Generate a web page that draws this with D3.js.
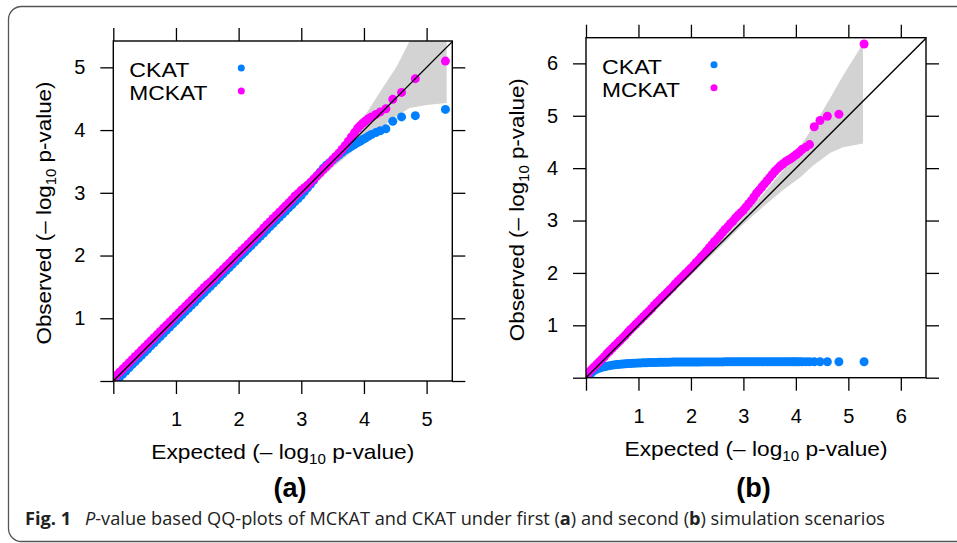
<!DOCTYPE html>
<html>
<head>
<meta charset="utf-8">
<script src="https://cdn.jsdelivr.net/npm/d3@7"></script>
<style>
  body { margin: 0; background: #fff; }
  svg { display: block; font-family: "Liberation Sans", Arial, sans-serif; }
  .axis path.domain { display: none; }
  .axis line { stroke: #000; stroke-width: 1.3; }
  .axis text { font-size: 20px; fill: #000; font-family: "Liberation Sans", Arial, sans-serif; }
</style>
</head>
<body>
<svg id="chart" width="957" height="543"></svg>
<script>
// expected -log10(p) quantiles, shared by every series
const expected = [
  0.02, 0.05, 0.10, 0.15, 0.20, 0.25, 0.30, 0.35, 0.40, 0.45,
  0.50, 0.55, 0.60, 0.65, 0.70, 0.75, 0.80, 0.85, 0.90, 0.95,
  1.00, 1.05, 1.10, 1.15, 1.20, 1.25, 1.30, 1.35, 1.40, 1.45,
  1.50, 1.55, 1.60, 1.65, 1.70, 1.75, 1.80, 1.85, 1.90, 1.95,
  2.00, 2.05, 2.10, 2.15, 2.20, 2.25, 2.30, 2.35, 2.40, 2.45,
  2.50, 2.55, 2.60, 2.65, 2.70, 2.75, 2.80, 2.85, 2.90, 2.95,
  3.00, 3.05, 3.10, 3.15, 3.20, 3.25, 3.30, 3.35, 3.40, 3.45,
  3.50, 3.55, 3.60, 3.65, 3.70, 3.75, 3.80, 3.85, 3.90, 3.94,
  3.98, 4.02, 4.07, 4.12, 4.19, 4.26, 4.35, 4.46, 4.60, 4.82,
  5.30
]

// panel (a): first scenario, observed -log10(p)
const ckatA = [
  0.00, 0.01, 0.06, 0.11, 0.16, 0.21, 0.26, 0.31, 0.36, 0.41,
  0.46, 0.51, 0.56, 0.61, 0.66, 0.71, 0.76, 0.81, 0.86, 0.91,
  0.96, 1.01, 1.06, 1.11, 1.16, 1.21, 1.26, 1.31, 1.36, 1.41,
  1.46, 1.51, 1.56, 1.61, 1.66, 1.71, 1.76, 1.81, 1.86, 1.91,
  1.96, 2.01, 2.06, 2.11, 2.16, 2.21, 2.26, 2.31, 2.36, 2.41,
  2.46, 2.51, 2.56, 2.61, 2.66, 2.71, 2.76, 2.81, 2.86, 2.91,
  2.96, 3.02, 3.08, 3.14, 3.20, 3.27, 3.33, 3.39, 3.44, 3.48,
  3.52, 3.56, 3.60, 3.64, 3.68, 3.71, 3.74, 3.77, 3.80, 3.82,
  3.85, 3.87, 3.90, 3.93, 3.96, 3.99, 4.02, 4.14, 4.21, 4.23,
  4.33
]
const mckatA = [
  0.05, 0.09, 0.14, 0.19, 0.24, 0.29, 0.34, 0.39, 0.44, 0.49,
  0.54, 0.59, 0.64, 0.69, 0.74, 0.79, 0.84, 0.89, 0.94, 0.99,
  1.04, 1.09, 1.14, 1.19, 1.24, 1.29, 1.34, 1.39, 1.44, 1.49,
  1.54, 1.58, 1.63, 1.68, 1.73, 1.78, 1.83, 1.88, 1.93, 1.98,
  2.03, 2.08, 2.13, 2.18, 2.23, 2.28, 2.33, 2.38, 2.44, 2.49,
  2.54, 2.59, 2.64, 2.69, 2.74, 2.79, 2.84, 2.89, 2.95, 2.99,
  3.04, 3.08, 3.12, 3.17, 3.22, 3.27, 3.32, 3.37, 3.42, 3.47,
  3.53, 3.58, 3.63, 3.69, 3.75, 3.82, 3.89, 3.96, 4.03, 4.07,
  4.11, 4.14, 4.18, 4.21, 4.25, 4.29, 4.34, 4.49, 4.60, 4.82,
  5.10
]

// panel (b): second scenario, observed -log10(p)
const ckatB = [
  0.02, 0.05, 0.09, 0.13, 0.16, 0.18, 0.20, 0.21, 0.22, 0.23,
  0.24, 0.245, 0.25, 0.255, 0.26, 0.265, 0.27, 0.272, 0.275, 0.277,
  0.28, 0.282, 0.284, 0.286, 0.288, 0.29, 0.291, 0.292, 0.293, 0.294,
  0.295, 0.296, 0.297, 0.298, 0.298, 0.299, 0.299, 0.30, 0.30, 0.30,
  0.30, 0.30, 0.30, 0.30, 0.301, 0.301, 0.301, 0.301, 0.302, 0.302,
  0.302, 0.302, 0.302, 0.303, 0.303, 0.303, 0.303, 0.303, 0.303, 0.304,
  0.304, 0.304, 0.304, 0.304, 0.304, 0.304, 0.305, 0.305, 0.305, 0.305,
  0.305, 0.305, 0.305, 0.305, 0.305, 0.305, 0.305, 0.305, 0.305, 0.305,
  0.305, 0.305, 0.305, 0.305, 0.305, 0.305, 0.305, 0.305, 0.305, 0.305,
  0.305
]
const mckatB = [
  0.07, 0.10, 0.15, 0.20, 0.25, 0.30, 0.35, 0.40, 0.46, 0.51,
  0.56, 0.61, 0.66, 0.71, 0.76, 0.81, 0.87, 0.92, 0.97, 1.02,
  1.07, 1.12, 1.17, 1.22, 1.27, 1.32, 1.38, 1.43, 1.48, 1.53,
  1.58, 1.63, 1.68, 1.73, 1.79, 1.84, 1.89, 1.94, 1.99, 2.04,
  2.09, 2.14, 2.20, 2.25, 2.31, 2.36, 2.42, 2.48, 2.54, 2.60,
  2.65, 2.71, 2.77, 2.83, 2.88, 2.94, 2.99, 3.05, 3.10, 3.15,
  3.20, 3.26, 3.32, 3.38, 3.45, 3.52, 3.58, 3.64, 3.70, 3.76,
  3.82, 3.88, 3.94, 3.99, 4.04, 4.08, 4.12, 4.15, 4.18, 4.21,
  4.24, 4.27, 4.31, 4.36, 4.40, 4.45, 4.79, 4.91, 4.99, 5.03,
  6.37
]

// grey confidence bands
const bandExpA = [0, 1, 2, 3, 3.5, 4.04, 4.31, 4.52, 4.73, 5.0, 5.32]
const bandLowA = [0, 0.97, 1.95, 2.93, 3.4, 3.85, 4.07, 4.22, 4.35, 4.40, 4.43]
const bandHighA = [0, 1.03, 2.06, 3.1, 3.62, 4.27, 4.69, 5.01, 5.42, 5.8, 6.3]
const bandExpB = [0, 1, 2, 3, 3.37, 3.75, 4.08, 4.33, 4.65, 4.90, 5.28]
const bandLowB = [0, 0.97, 1.95, 2.93, 3.26, 3.58, 3.82, 4.05, 4.29, 4.40, 4.47]
const bandHighB = [0, 1.03, 2.06, 3.1, 3.5, 3.95, 4.41, 4.79, 5.33, 5.77, 6.38]

const ticksA = [0, 1, 2, 3, 4, 5]
const ticksB = [0, 1, 2, 3, 4, 5, 6]
const seriesNames = ['CKAT', 'MCKAT']
const seriesColors = ['#0080ff', '#ff00ff']

const svg = d3.select('#chart')

// outer frame of the figure
svg.append('rect')
  .attr('x', 8.5).attr('y', 6.5)
  .attr('width', 1000).attr('height', 535)
  .attr('rx', 13)
  .attr('fill', 'none')
  .attr('stroke', '#555')
  .attr('stroke-width', 1.3)

const panels = [
  { id: 'a', left: 113.3, top: 41, right: 452.3, bottom: 381, xMax: 5.41, yMax: 5.42,
    ticks: ticksA, series: [ckatA, mckatA],
    band: { x: bandExpA, lo: bandLowA, hi: bandHighA }, tag: '(a)', tagX: 290 },
  { id: 'b', left: 586, top: 37.7, right: 926, bottom: 377.7, xMax: 6.48, yMax: 6.49,
    ticks: ticksB, series: [ckatB, mckatB],
    band: { x: bandExpB, lo: bandLowB, hi: bandHighB }, tag: '(b)', tagX: 753.5 }
]

/**
 * Appends an axis title with a subscript "10" in log10.
 */
function appendTitle (g, lead) {
  g.append('tspan').text(lead + ' (\u2013 log')
  g.append('tspan').text('10').attr('font-size', 14).attr('dy', 5)
  g.append('tspan').text(' p-value)').attr('dy', -5)
}

function drawPanel (p) {
  const x = d3.scaleLinear().domain([0, p.xMax]).range([p.left, p.right])
  const y = d3.scaleLinear().domain([0, p.yMax]).range([p.bottom, p.top])
  const g = svg.append('g').attr('id', 'panel-' + p.id)

  g.append('clipPath').attr('id', 'clip-' + p.id)
    .append('rect')
    .attr('x', p.left).attr('y', p.top)
    .attr('width', p.right - p.left).attr('height', p.bottom - p.top)

  const inner = g.append('g').attr('clip-path', 'url(#clip-' + p.id + ')')

  // confidence band
  const area = d3.area()
    .x((d, i) => x(p.band.x[i]))
    .y0((d, i) => y(p.band.lo[i]))
    .y1((d, i) => y(p.band.hi[i]))
  inner.append('path')
    .datum(p.band.x)
    .attr('d', area)
    .attr('fill', '#d3d3d3')

  // points, CKAT first then MCKAT on top
  p.series.forEach((obs, s) => {
    inner.append('g')
      .selectAll('circle')
      .data(expected)
      .enter()
      .append('circle')
      .attr('cx', d => x(d))
      .attr('cy', (d, i) => y(obs[i]))
      .attr('r', 4.5)
      .attr('fill', seriesColors[s])
  })

  // identity line
  inner.append('line')
    .attr('x1', x(0)).attr('y1', y(0))
    .attr('x2', x(p.xMax)).attr('y2', y(p.xMax))
    .attr('stroke', '#000')
    .attr('stroke-width', 1.4)

  // axes
  const fmt = d => d === 0 ? '' : d
  g.append('g').attr('class', 'axis')
    .attr('transform', 'translate(0,' + y(0) + ')')
    .call(d3.axisBottom(x).tickValues(p.ticks).tickSize(13).tickPadding(18).tickFormat(fmt))
  g.append('g').attr('class', 'axis')
    .attr('transform', 'translate(' + x(0) + ',0)')
    .call(d3.axisLeft(y).tickValues(p.ticks).tickSize(13).tickPadding(15).tickFormat(fmt))
  g.append('g').attr('class', 'axis')
    .attr('transform', 'translate(0,' + y(p.yMax) + ')')
    .call(d3.axisTop(x).tickValues(p.ticks).tickSize(13).tickFormat(''))
  g.append('g').attr('class', 'axis')
    .attr('transform', 'translate(' + x(p.xMax) + ',0)')
    .call(d3.axisRight(y).tickValues(p.ticks).tickSize(13).tickFormat(''))

  g.append('rect')
    .attr('x', p.left).attr('y', p.top)
    .attr('width', p.right - p.left).attr('height', p.bottom - p.top)
    .attr('fill', 'none')
    .attr('stroke', '#000')
    .attr('stroke-width', 1.4)

  // legend
  seriesNames.forEach((name, s) => {
    g.append('text')
      .attr('x', p.left + 16)
      .attr('y', p.top + 36 + s * 23)
      .attr('font-size', 21)
      .attr('textLength', s === 0 ? 60 : 78)
      .attr('lengthAdjust', 'spacingAndGlyphs')
      .text(name)
    g.append('circle')
      .attr('cx', p.left + 128)
      .attr('cy', p.top + 27 + s * 23)
      .attr('r', 3.5)
      .attr('fill', seriesColors[s])
  })

  // axis titles
  const cx = (p.left + p.right) / 2
  const cy = (p.top + p.bottom) / 2
  const xt = g.append('text')
    .attr('x', cx).attr('y', p.bottom + 78)
    .attr('text-anchor', 'middle')
    .attr('font-size', 21)
    .attr('textLength', 263)
    .attr('lengthAdjust', 'spacingAndGlyphs')
  appendTitle(xt, 'Expected')

  const yt = g.append('text')
    .attr('transform', 'translate(' + (p.left - 62) + ',' + (cy + 2) + ') rotate(-90)')
    .attr('text-anchor', 'middle')
    .attr('font-size', 21)
    .attr('textLength', 263)
    .attr('lengthAdjust', 'spacingAndGlyphs')
  appendTitle(yt, 'Observed')

  g.append('text')
    .attr('x', p.tagX).attr('y', 497)
    .attr('text-anchor', 'middle')
    .attr('font-size', 27)
    .attr('font-weight', 'bold')
    .text(p.tag)
}

panels.forEach(drawPanel)

// caption
const cap = svg.append('text')
  .attr('x', 25).attr('y', 525)
  .attr('font-family', '"Open Sans", "Noto Sans", sans-serif')
  .attr('font-size', 18)
  .attr('fill', '#222')
  .attr('textLength', 860)
  .attr('lengthAdjust', 'spacingAndGlyphs')
cap.append('tspan').attr('font-weight', 'bold').text('Fig. 1')
cap.append('tspan').text('\u2002 ')
cap.append('tspan').attr('font-style', 'italic').text('P')
cap.append('tspan').text('-value based QQ-plots of MCKAT and CKAT under first (')
cap.append('tspan').attr('font-weight', 'bold').text('a')
cap.append('tspan').text(') and second (')
cap.append('tspan').attr('font-weight', 'bold').text('b')
cap.append('tspan').text(') simulation scenarios')
</script>
</body>
</html>
